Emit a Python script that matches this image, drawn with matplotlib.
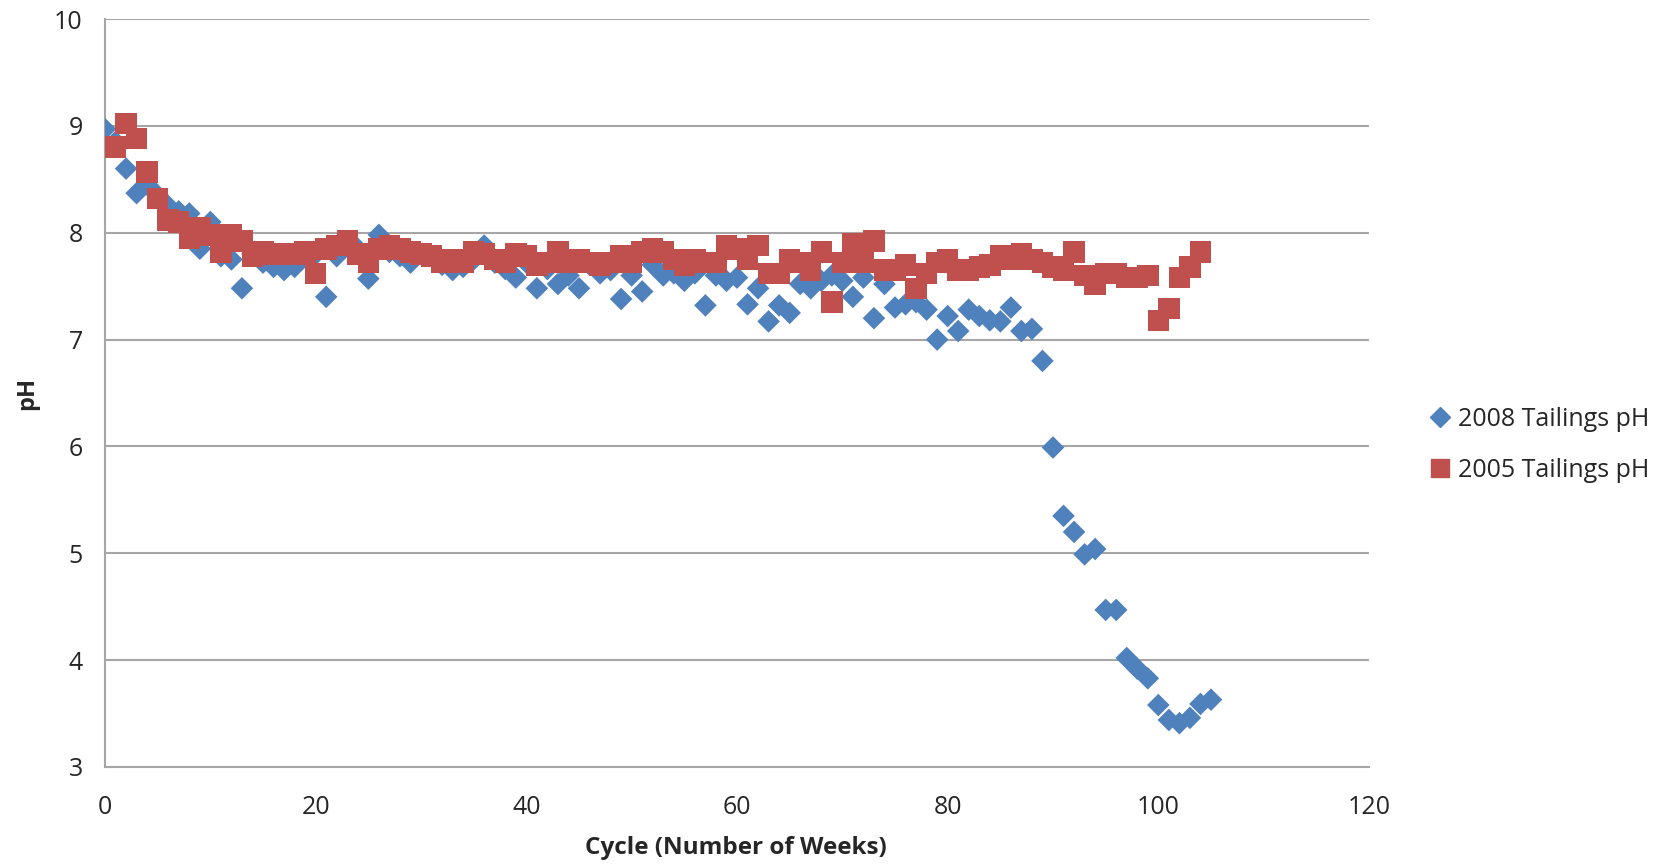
import matplotlib
matplotlib.use("Agg")
import matplotlib.pyplot as plt
from matplotlib.lines import Line2D

# ---- data ----
weeks_2008 = list(range(0, 106))
ph_2008 = [8.97, 8.85, 8.60, 8.37, 8.45, 8.35, 8.25, 8.20, 8.18, 7.85,
           8.10, 7.78, 7.75, 7.48, 7.80, 7.72, 7.68, 7.65, 7.68, 7.78,
           7.80, 7.40, 7.78, 7.90, 7.85, 7.57, 7.98, 7.82, 7.78, 7.72,
           7.80, 7.78, 7.70, 7.65, 7.68, 7.75, 7.88, 7.72, 7.66, 7.58,
           7.72, 7.48, 7.66, 7.52, 7.60, 7.48, 7.70, 7.62, 7.65, 7.38,
           7.60, 7.45, 7.70, 7.60, 7.62, 7.55, 7.62, 7.32, 7.60, 7.55,
           7.58, 7.33, 7.48, 7.17, 7.32, 7.25, 7.52, 7.48, 7.55, 7.60,
           7.55, 7.40, 7.58, 7.20, 7.52, 7.30, 7.33, 7.35, 7.28, 7.00,
           7.22, 7.08, 7.28, 7.22, 7.18, 7.17, 7.30, 7.08, 7.10, 6.80,
           5.99, 5.35, 5.20, 4.99, 5.04, 4.47, 4.47, 4.02, 3.92, 3.83,
           3.58, 3.44, 3.41, 3.46, 3.59, 3.63]

weeks_2005 = list(range(1, 105))
ph_2005 = [8.80, 9.02, 8.88, 8.57, 8.32, 8.12, 8.10, 7.95, 8.05, 7.98,
           7.82, 7.98, 7.92, 7.78, 7.82, 7.80, 7.80, 7.80, 7.82, 7.62,
           7.85, 7.88, 7.92, 7.80, 7.72, 7.85, 7.88, 7.85, 7.82, 7.80,
           7.78, 7.72, 7.75, 7.72, 7.82, 7.80, 7.75, 7.72, 7.80, 7.78,
           7.70, 7.72, 7.82, 7.72, 7.75, 7.72, 7.70, 7.72, 7.78, 7.72,
           7.82, 7.85, 7.82, 7.75, 7.70, 7.75, 7.72, 7.72, 7.88, 7.85,
           7.75, 7.88, 7.62, 7.62, 7.75, 7.72, 7.65, 7.82, 7.35, 7.72,
           7.90, 7.72, 7.92, 7.65, 7.65, 7.70, 7.48, 7.62, 7.72, 7.75,
           7.65, 7.65, 7.68, 7.70, 7.78, 7.75, 7.80, 7.75, 7.72, 7.68,
           7.65, 7.82, 7.60, 7.52, 7.62, 7.62, 7.58, 7.58, 7.60, 7.18,
           7.29, 7.58, 7.68, 7.82]

x_ticks = [0, 20, 40, 60, 80, 100, 120]
y_ticks = [3, 4, 5, 6, 7, 8, 9, 10]
label_2008 = "2008 Tailings pH"
label_2005 = "2005 Tailings pH"

blue = "#4F81BD"
red = "#C0504D"
grid_c = "#A6A6A6"
text_c = "#262626"

plt.rcParams['font.family'] = ['Open Sans', 'DejaVu Sans']

fig = plt.figure(figsize=(16.65, 8.64), dpi=100)
ax = fig.add_axes([105/1665, 1 - 767/864, (1369 - 105)/1665, (767 - 19)/864])

ax.scatter(weeks_2008, ph_2008, marker='D', s=11.5**2, color=blue,
           edgecolors='none', zorder=3, label=label_2008)
ax.scatter(weeks_2005, ph_2005, marker='s', s=15.5**2, color=red,
           edgecolors='none', zorder=4, label=label_2005)

ax.set_xlim(0, 120)
ax.set_ylim(3, 10)
ax.set_xticks(x_ticks)
ax.set_yticks(y_ticks)
ax.yaxis.grid(True, color=grid_c, linewidth=1.5, zorder=0)
ax.set_axisbelow(True)
for s in ['top', 'right']:
    ax.spines[s].set_visible(False)
for s in ['left', 'bottom']:
    ax.spines[s].set_color(grid_c)
    ax.spines[s].set_linewidth(1.5)
ax.tick_params(axis='both', length=0, labelsize=18, colors=text_c)
ax.tick_params(axis='y', pad=16)
ax.tick_params(axis='x', pad=20)

ax.set_xlabel("Cycle (Number of Weeks)", fontsize=17.5, fontweight='bold', color=text_c)
ax.set_ylabel("pH", fontsize=17, fontweight='bold', color=text_c)
ax.xaxis.set_label_coords((736 - 105) / 1264, -(836 - 767) / 748)
ax.yaxis.set_label_coords(-(105 - 39) / 1264, (767 - 393) / 748)

handles = [Line2D([], [], marker='D', linestyle='none', color=blue, markersize=10),
           Line2D([], [], marker='s', linestyle='none', color=red, markersize=13)]
fig.legend(handles, [label_2008, label_2005], loc='center left',
           bbox_to_anchor=(1403/1665, 1 - 445/864), frameon=False,
           fontsize=18, labelspacing=1.04, handletextpad=0.1, handlelength=1.2,
           labelcolor=text_c)

fig.savefig("out.png", dpi=100)
